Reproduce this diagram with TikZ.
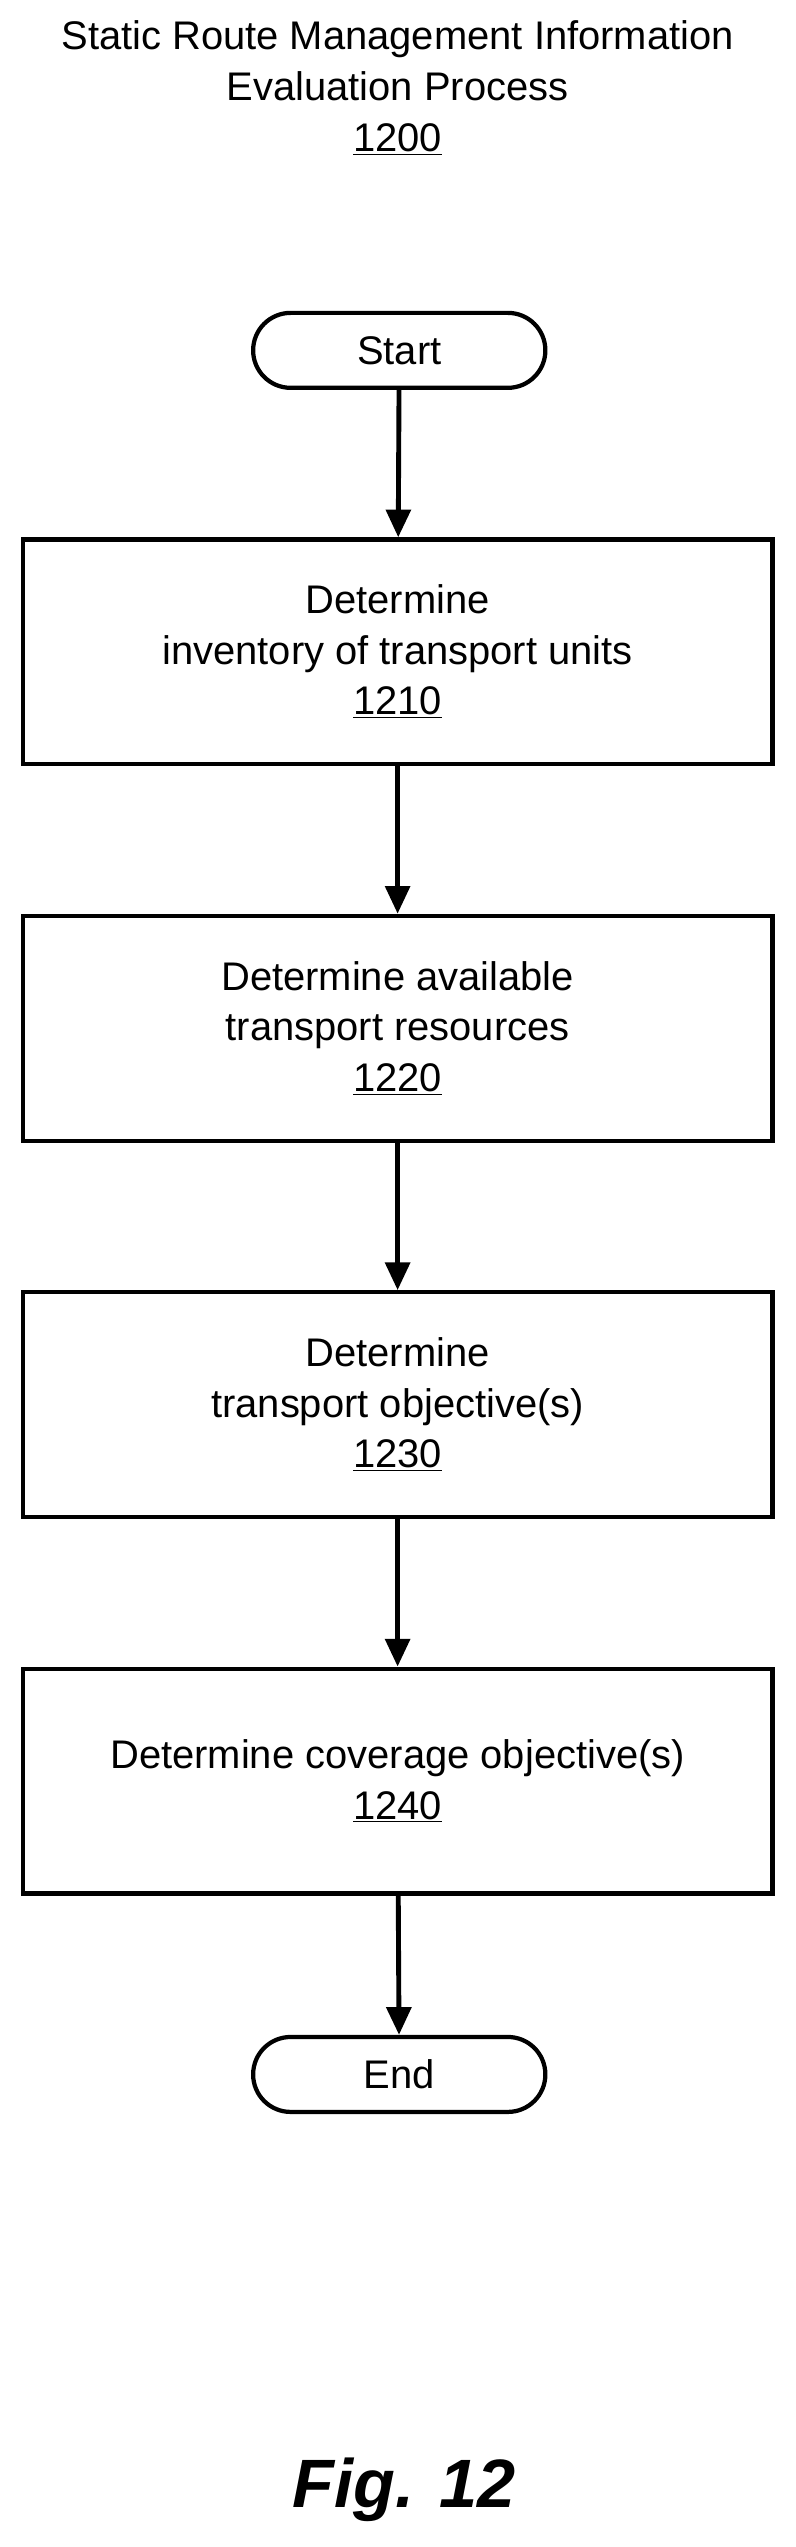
\documentclass[tikz,border=0pt]{standalone}
\usepackage{fontspec}
\setmainfont{Liberation Sans}
\usetikzlibrary{positioning}
\usetikzlibrary{shapes}
\usetikzlibrary{arrows.meta}
\tikzset{
  stepbox/.style={draw, line width=2.6pt, minimum width=460pt, minimum height=138pt, align=center, font=\fontsize{24.5}{31}\selectfont},
  term/.style={draw, line width=2.6pt, rounded rectangle, minimum width=186pt, minimum height=46pt, font=\fontsize{24.5}{31}\selectfont},
}
\begin{document}
\begin{tikzpicture}[x=1pt, y=1pt,
  flow/.style={line width=3pt, -{Triangle[length=17pt, width=15pt]}}
]
\useasboundingbox (0, 0) rectangle (488, -1563);

% Title
\node[align=center, font=\fontsize{24.5}{31.5}\selectfont] (title) at (244, -54) {Static Route Management Information\\Evaluation Process\\\underline{1200}};

% Steps
\node[term] (start) at (245, -215) {Start};
\node[stepbox] (s1210) at (244, -400) {Determine\\inventory of transport units\\\underline{1210}};
\node[stepbox] (s1220) at (244, -631) {Determine available\\transport resources\\\underline{1220}};
\node[stepbox] (s1230) at (244, -862) {Determine\\transport objective(s)\\\underline{1230}};
\node[stepbox] (s1240) at (244, -1093) {Determine coverage objective(s)\\\underline{1240}};
\node[term] (end) at (245, -1273) {End};

% Caption
\node[font=\fontsize{42}{50}\selectfont\bfseries\itshape] (fig) at (248, -1528) {Fig. 12};

% Edges
\draw[flow] (start) to (s1210);
\draw[flow] (s1210) to (s1220);
\draw[flow] (s1220) to (s1230);
\draw[flow] (s1230) to (s1240);
\draw[flow] (s1240) to (end);
\end{tikzpicture}
\end{document}
